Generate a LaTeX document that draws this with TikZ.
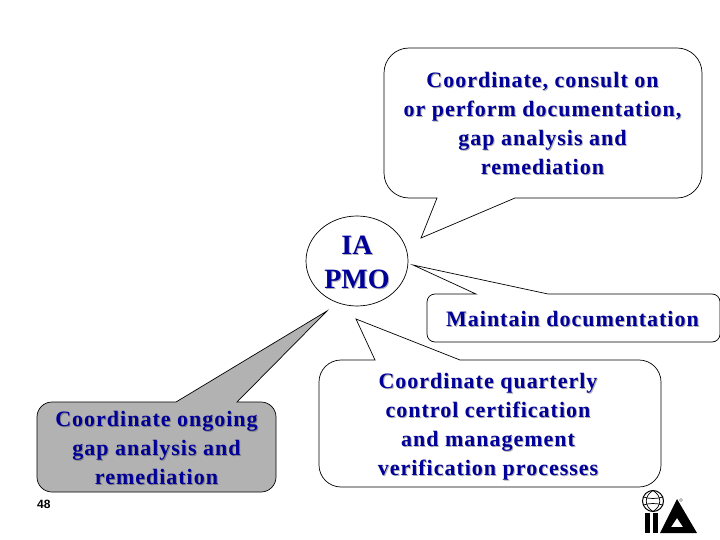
\documentclass[tikz,border=0pt]{standalone}
\usepackage{fontspec}
\setmainfont{Liberation Serif}
\setsansfont{Liberation Sans}
\usetikzlibrary{shapes.geometric}
\definecolor{labelnavy}{HTML}{000099}
\definecolor{labelshade}{HTML}{B0B0B0}
\definecolor{calloutgray}{HTML}{B2B2B2}
\begin{document}
\begin{tikzpicture}[x=1pt,y=-1pt,line join=miter,
  callout/.style={draw=black,line width=0.7pt},
  label/.style={align=center,inner sep=0pt,text=labelnavy,font=\fontsize{22}{29}\selectfont\addfontfeature{LetterSpace=4.5}\bfseries},
  biglabel/.style={label,font=\fontsize{28}{34}\selectfont\bfseries},
  shade/.style={text=labelshade}]
  \useasboundingbox (0,0) rectangle (720,540);
  % callout bodies
  \draw[callout] (421,238) -- (515,198) [rounded corners=25] -- (702,198) -- (702,48) -- (384,48) -- (384,198) [sharp corners] -- (437,198) -- cycle;
  \draw[callout] (413,265) -- (548,294) [rounded corners=8] -- (720,294) -- (720,342) -- (427,342) -- (427,294) [sharp corners] -- (476,294) -- cycle;
  \draw[callout] (356,319) -- (460,360) [rounded corners=22] -- (661,360) -- (661,487) -- (319,487) -- (319,360) [sharp corners] -- (375,360) -- cycle;
  \draw[callout,fill=calloutgray] (327,311) -- (237,402) [rounded corners=15] -- (276,402) -- (276,492) -- (37,492) -- (37,402) [sharp corners] -- (176,402) -- cycle;
  \node[ellipse,draw=black,line width=0.7pt,minimum width=102pt,minimum height=90pt,inner sep=0pt] (pmoring) at (357,261) {};
  % labels with their drop shade
  \node[label,shade] at (543.5,124.5) {Coordinate, consult on\\or perform documentation,\\gap analysis and\\remediation};
  \node[label] (consult) at (542.5,123.5) {Coordinate, consult on\\or perform documentation,\\gap analysis and\\remediation};
  \node[biglabel,shade] at (358,263) {IA\\PMO};
  \node[biglabel] (pmo) at (357,262) {IA\\PMO};
  \node[label,shade] at (573.5,320) {Maintain documentation};
  \node[label] (maintain) at (572.5,319) {Maintain documentation};
  \node[label,shade] at (489,427.5) {Coordinate quarterly\\control certification\\and management\\verification processes};
  \node[label] (quarterly) at (488,426.5) {Coordinate quarterly\\control certification\\and management\\verification processes};
  \node[label,shade,text=black!50] at (157.5,449) {Coordinate ongoing\\gap analysis and\\remediation};
  \node[label] (ongoing) at (156.5,448) {Coordinate ongoing\\gap analysis and\\remediation};
  \node[anchor=west,inner sep=0pt,font=\fontsize{12}{14}\sffamily\bfseries] (pagenum) at (37,504) {48};
  % logo
  \draw[line width=1pt] (653,501) circle (10.5);
  \draw[line width=0.7pt] (653,490.5) .. controls (644,496) and (644,506) .. (653,511.5);
  \draw[line width=0.7pt] (653,490.5) .. controls (662,496) and (662,506) .. (653,511.5);
  \draw[line width=0.7pt] (643,497) .. controls (650,499) and (656,499) .. (663,497);
  \draw[line width=0.7pt] (643,505) .. controls (650,503) and (656,503) .. (663,505);
  \fill[black] (645,513) rectangle (650,533);
  \fill[black] (653,513) rectangle (658,533);
  \fill[black,even odd rule] (677,499) -- (697,533) -- (660,533) -- cycle (677,518) -- (683,527) -- (671,527) -- cycle;
  \draw[line width=0.3pt] (681,500) circle (1.5);
\end{tikzpicture}
\end{document}
